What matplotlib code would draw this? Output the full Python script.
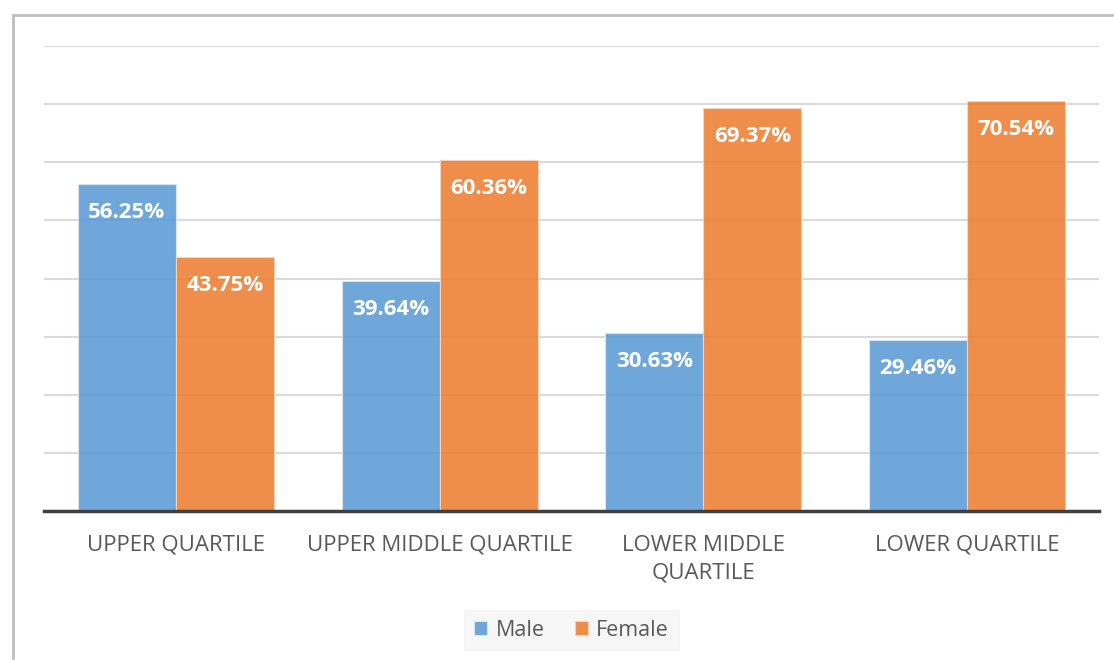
import numpy as np
import matplotlib.pyplot as plt
from matplotlib.lines import Line2D

categories = ['UPPER QUARTILE', 'UPPER MIDDLE QUARTILE', 'LOWER MIDDLE\nQUARTILE', 'LOWER QUARTILE']
male = [56.25, 39.64, 30.63, 29.46]
female = [43.75, 60.36, 69.37, 70.54]

plt.rcParams['font.family'] = ['Open Sans', 'DejaVu Sans']

W, H = 1114, 660
fig = plt.figure(figsize=(W / 100, H / 100), dpi=100)
ax = fig.add_axes([44 / W, 1 - 511 / H, (1099 - 44) / W, (511 - 46) / H])

x = np.arange(len(categories))
bw = 0.372
b1 = ax.bar(x - bw / 2, male, bw, color='#5B9BD5', alpha=0.88, edgecolor='#DCE8F5', linewidth=0.8, zorder=2, label='Male')
b2 = ax.bar(x + bw / 2, female, bw, color='#ED7D31', alpha=0.88, edgecolor='#F8D5BF', linewidth=0.8, zorder=2, label='Female')

for bars, vals in [(b1, male), (b2, female)]:
    for r, v in zip(bars, vals):
        ax.annotate('%.2f%%' % v, (r.get_x() + r.get_width() / 2, v), xytext=(0, -20.5),
                    textcoords='offset points', ha='center', va='center',
                    color='white', fontsize=16, fontweight='bold', zorder=3)

ax.set_xlim(-0.5, len(categories) - 0.5)
ax.set_ylim(0, 80)
ax.set_yticks(np.arange(10, 81, 10))
ax.yaxis.grid(True, color='#DADADA', linewidth=1.5, zorder=0)
ax.set_axisbelow(True)
ax.tick_params(axis='y', left=False, labelleft=False)
ax.set_xticks(x)
ax.set_xticklabels(categories, fontsize=16, color='#595959', linespacing=1.45)
ax.tick_params(axis='x', length=0, pad=17)
for s in ['top', 'right', 'left']:
    ax.spines[s].set_visible(False)
ax.spines['bottom'].set_color('#404040')
ax.spines['bottom'].set_linewidth(2.5)
ax.spines['bottom'].set_zorder(4)

leg = fig.legend(handles=[b1, b2], labels=['Male', 'Female'], loc='center',
                 bbox_to_anchor=(571.5 / W, 1 - 630 / H), ncol=2, frameon=True,
                 fontsize=15.5, handlelength=0.6, handleheight=0.6, handletextpad=0.4,
                 columnspacing=1.4, borderpad=0.45, fancybox=False)
leg.get_frame().set_facecolor('#F4F4F4')
leg.get_frame().set_edgecolor('#F4F4F4')
for t in leg.get_texts():
    t.set_color('#595959')

# outer border (top and left visible)
fig.add_artist(Line2D([13 / W, 1], [1 - 15 / H, 1 - 15 / H], color='#BFBFBF', linewidth=2))
fig.add_artist(Line2D([13 / W, 13 / W], [0, 1 - 15 / H], color='#BFBFBF', linewidth=2))

fig.savefig('out.png', dpi=100)
